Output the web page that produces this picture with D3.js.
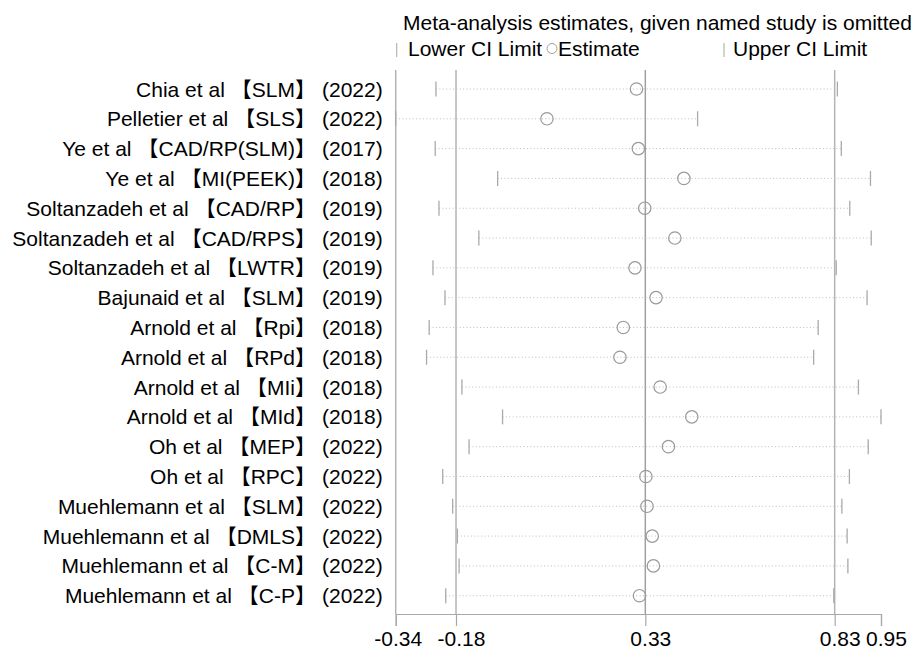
<!DOCTYPE html>
<html>
<head>
<meta charset="utf-8">
<script src="https://cdn.jsdelivr.net/npm/d3@7"></script>
<style>
  html, body { margin: 0; padding: 0; background: #fff; }
  svg { display: block; }
  text { font-family: "Liberation Sans", Arial, "Noto Sans CJK SC", sans-serif; fill: #000; }
</style>
</head>
<body>
<script>
const studies = [
  "Chia et al【SLM】", "Pelletier et al【SLS】", "Ye et al【CAD/RP(SLM)】", "Ye et al【MI(PEEK)】",
  "Soltanzadeh et al【CAD/RP】", "Soltanzadeh et al【CAD/RPS】", "Soltanzadeh et al【LWTR】",
  "Bajunaid et al【SLM】", "Arnold et al【Rpi】", "Arnold et al【RPd】", "Arnold et al【MIi】",
  "Arnold et al【MId】", "Oh et al【MEP】", "Oh et al【RPC】", "Muehlemann et al【SLM】",
  "Muehlemann et al【DMLS】", "Muehlemann et al【C-M】", "Muehlemann et al【C-P】"
];
const years = ["2022","2022","2017","2018","2019","2019","2019","2019","2018","2018","2018","2018","2022","2022","2022","2022","2022","2022"];
const estimates = [0.300, 0.062, 0.305, 0.426, 0.322, 0.402, 0.296, 0.352, 0.265, 0.256, 0.363, 0.447, 0.385, 0.325, 0.328, 0.342, 0.345, 0.308];
const lowerCI   = [-0.233, -0.340, -0.235, -0.069, -0.225, -0.119, -0.241, -0.209, -0.251, -0.258, -0.164, -0.056, -0.145, -0.215, -0.1885, -0.176, -0.1715, -0.207];
const upperCI   = [0.834, 0.4625, 0.8445, 0.922, 0.867, 0.924, 0.831, 0.913, 0.783, 0.771, 0.890, 0.950, 0.916, 0.866, 0.846, 0.860, 0.862, 0.8245];
const tickValues = [-0.34, -0.1797, 0.3235, 0.8269, 0.95];
const tickLabels = ["-0.34", "-0.18", "0.33", "0.83", "0.95"];
const refLines = [-0.1797, 0.3235, 0.8269];
const titleText = "Meta-analysis estimates, given named study is omitted";

const W = 919, H = 649, FS = 21;
const svg = d3.select("body").append("svg").attr("width", W).attr("height", H);
svg.append("rect").attr("width", W).attr("height", H).attr("fill", "#fff");

const x = d3.scaleLinear().domain([-0.34, 0.95]).range([395.7, 881]);
const y = d3.scalePoint().domain(studies).range([89, 595.7]);
const plotTop = 70, axisY = 614;

const rows = studies.map((s, i) => ({ s, yr: years[i], est: estimates[i], lo: lowerCI[i], hi: upperCI[i] }));

// left axis line
svg.append("line").attr("x1", x(-0.34)).attr("x2", x(-0.34)).attr("y1", plotTop).attr("y2", axisY)
  .attr("stroke", "#b4b4b4").attr("stroke-width", 1.5);

// reference lines
svg.selectAll("line.ref").data(refLines).join("line").attr("class", "ref")
  .attr("x1", d => x(d)).attr("x2", d => x(d)).attr("y1", plotTop).attr("y2", axisY)
  .attr("stroke", (d, i) => i === 1 ? "#a0a0a0" : "#b4b4b4").attr("stroke-width", 1.5);

// bottom axis
const axis = d3.axisBottom(x).tickValues(tickValues).tickFormat((d, i) => tickLabels[i]).tickSize(12).tickPadding(5);
const gAxis = svg.append("g").attr("transform", `translate(0,${axisY})`).call(axis);
gAxis.select(".domain").attr("stroke", "#a8a8a8").attr("stroke-width", 1.2);
gAxis.selectAll(".tick line").attr("stroke", "#a8a8a8").attr("stroke-width", 1.2);
gAxis.selectAll(".tick text").attr("font-size", FS).attr("fill", "#000").attr("dx", (d, i) => i === 0 ? 2 : 5)
  .attr("font-family", "'Liberation Sans', Arial, sans-serif");

// dotted CI lines
svg.selectAll("line.ci").data(rows).join("line").attr("class", "ci")
  .attr("x1", d => x(d.lo)).attr("x2", d => x(d.hi)).attr("y1", d => y(d.s)).attr("y2", d => y(d.s))
  .attr("stroke", "#bdbdbd").attr("stroke-width", 1).attr("stroke-dasharray", "1,2.4");

// CI end ticks
svg.selectAll("line.lo").data(rows).join("line").attr("class", "lo")
  .attr("x1", d => x(d.lo)).attr("x2", d => x(d.lo)).attr("y1", d => y(d.s) - 7.5).attr("y2", d => y(d.s) + 7.5)
  .attr("stroke", "#aaaaaa").attr("stroke-width", 1.3);
svg.selectAll("line.hi").data(rows).join("line").attr("class", "hi")
  .attr("x1", d => x(d.hi)).attr("x2", d => x(d.hi)).attr("y1", d => y(d.s) - 7.5).attr("y2", d => y(d.s) + 7.5)
  .attr("stroke", "#aaaaaa").attr("stroke-width", 1.3);

// estimates
svg.selectAll("circle.est").data(rows).join("circle").attr("class", "est")
  .attr("cx", d => x(d.est)).attr("cy", d => y(d.s)).attr("r", 6.2)
  .attr("fill", "none").attr("stroke", "#9a9a9a").attr("stroke-width", 1.2);

// row labels: study name (author + method in brackets) and year
const labs = svg.selectAll("text.lab").data(rows).join("text").attr("class", "lab")
  .attr("x", 316).attr("y", d => y(d.s) + 7.5).attr("text-anchor", "end").attr("font-size", FS);
labs.append("tspan").text(d => d.s.slice(0, d.s.indexOf("【")));
labs.append("tspan").attr("dx", 6).text(d => d.s.slice(d.s.indexOf("【")));
svg.selectAll("text.yr").data(rows).join("text").attr("class", "yr")
  .attr("x", 322).attr("y", d => y(d.s) + 7.5).attr("text-anchor", "start").attr("font-size", FS)
  .text(d => `(${d.yr})`);

// title
svg.append("text").attr("x", 403).attr("y", 29.5).attr("font-size", FS).text(titleText);

// legend
const legY = 55.5;
svg.append("line").attr("x1", 396.7).attr("x2", 396.7).attr("y1", 43).attr("y2", 57).attr("stroke", "#b4b4b4").attr("stroke-width", 1.2);
svg.append("text").attr("x", 408).attr("y", legY).attr("font-size", FS).text("Lower CI Limit");
svg.append("circle").attr("cx", 552).attr("cy", 48.5).attr("r", 5).attr("fill", "none").attr("stroke", "#a0a0a0").attr("stroke-width", 1);
svg.append("text").attr("x", 558).attr("y", legY).attr("font-size", FS).text("Estimate");
svg.append("line").attr("x1", 724).attr("x2", 724).attr("y1", 43).attr("y2", 57).attr("stroke", "#b4b4b4").attr("stroke-width", 1.2);
svg.append("text").attr("x", 733).attr("y", legY).attr("font-size", FS).text("Upper CI Limit");
</script>
</body>
</html>
